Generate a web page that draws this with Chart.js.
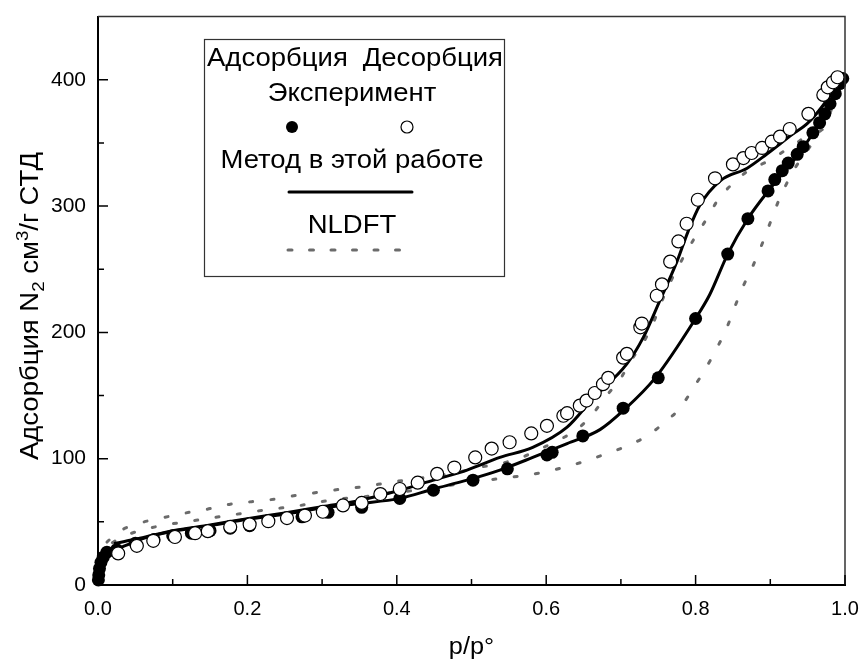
<!DOCTYPE html>
<html>
<head>
<meta charset="utf-8">
<script src="https://cdn.jsdelivr.net/npm/chart.js@4.4.1/dist/chart.umd.min.js"></script>
<style>
  html, body { margin: 0; padding: 0; background: #fff; }
  #wrap { width: 863px; height: 661px; }
</style>
</head>
<body>
<div id="wrap"><canvas id="c" width="863" height="661"></canvas></div>
<script>
// N2 isotherm: experiment, model of this work, NLDFT (p/p°, cm3/g STP)
const ADS_EXP_X = [0.0005, 0.001, 0.002, 0.004, 0.007, 0.012, 0.025, 0.05, 0.075, 0.1, 0.125, 0.15, 0.177, 0.203, 0.273, 0.308, 0.353, 0.404, 0.449, 0.502, 0.548, 0.601, 0.608, 0.649, 0.703, 0.75, 0.8, 0.843, 0.87, 0.897, 0.906, 0.916, 0.924, 0.936, 0.944, 0.957, 0.966, 0.973, 0.98, 0.987, 0.993, 0.997];
const ADS_EXP_Y = [4, 8, 13, 18, 22, 26, 28, 33, 36, 39, 41, 43, 45, 47, 54, 57.5, 61.5, 68.5, 75, 83, 92, 103, 105, 118, 140, 164, 211, 262, 290, 312, 321, 328, 334, 341, 347, 358, 366, 373, 381, 389, 397, 401];

const DES_EXP_X = [0.027, 0.052, 0.074, 0.103, 0.13, 0.147, 0.177, 0.203, 0.228, 0.253, 0.277, 0.301, 0.328, 0.353, 0.378, 0.404, 0.428, 0.454, 0.477, 0.505, 0.527, 0.551, 0.58, 0.601, 0.623, 0.628, 0.645, 0.654, 0.665, 0.676, 0.683, 0.703, 0.708, 0.726, 0.728, 0.748, 0.755, 0.766, 0.777, 0.788, 0.803, 0.826, 0.85, 0.864, 0.875, 0.889, 0.902, 0.913, 0.926, 0.951, 0.971, 0.977, 0.984, 0.99];
const DES_EXP_Y = [25, 31, 35, 38, 41, 42.6, 46, 48, 50.5, 53, 55, 58, 63, 65, 72, 76, 81, 88, 93, 101, 108, 113, 120, 126, 134, 136, 142, 146, 152, 159, 164, 180, 183, 204, 207, 229, 238, 256, 272, 286, 305, 322, 333, 338, 342, 346, 351, 355, 361, 373, 388, 394, 398, 402];

const ADS_MODEL_X = [0, 0.003, 0.006, 0.01, 0.016, 0.025, 0.04, 0.056, 0.1, 0.15, 0.2, 0.25, 0.3, 0.35, 0.404, 0.449, 0.494, 0.538, 0.582, 0.628, 0.672, 0.703, 0.746, 0.8, 0.819, 0.843, 0.87, 0.9, 0.94, 0.97, 0.99, 0.997];
const ADS_MODEL_Y = [3, 10, 15, 19, 24, 28, 32, 36, 42.5, 47, 52, 56, 61, 64.5, 68.6, 76, 83, 91, 101, 112, 123, 138, 164, 211, 230, 262, 290, 314, 343, 370, 393, 401];

const DES_MODEL_X = [0.023, 0.056, 0.1, 0.15, 0.2, 0.25, 0.3, 0.35, 0.404, 0.449, 0.494, 0.538, 0.582, 0.628, 0.663, 0.708, 0.73, 0.752, 0.775, 0.79, 0.806, 0.833, 0.869, 0.895, 0.93, 0.949, 0.971, 0.989, 0.997];
const DES_MODEL_Y = [33, 37, 43, 47.5, 52.5, 57, 62, 67, 75, 83, 91, 101, 109, 125, 148, 175, 196, 225, 256, 280, 301, 320, 330, 341, 357, 365, 380, 396, 404];

const NLDFT_ADS_X = [0.002, 0.013, 0.029, 0.056, 0.085, 0.117, 0.146, 0.166, 0.197, 0.23, 0.261, 0.29, 0.321, 0.353, 0.382, 0.411, 0.471, 0.534, 0.562, 0.594, 0.623, 0.652, 0.681, 0.708, 0.735, 0.759, 0.779, 0.797, 0.813, 0.828, 0.842, 0.853, 0.864, 0.877, 0.889, 0.9, 0.911, 0.922, 0.933, 0.942, 0.953, 0.962, 0.973, 0.984, 0.993];
const NLDFT_ADS_Y = [20, 30, 37, 43, 47, 50, 52.5, 54.4, 57, 60, 62, 65, 68, 69.5, 72.6, 74, 79, 84, 86, 89, 93, 98, 104, 110, 118, 129, 140, 156, 171, 187, 204, 221, 237, 253, 270, 287, 304, 318, 330, 338, 347, 357, 363, 380, 393];

const NLDFT_DES_X = [0.012, 0.027, 0.056, 0.085, 0.117, 0.146, 0.177, 0.206, 0.237, 0.266, 0.296, 0.327, 0.357, 0.388, 0.419, 0.449, 0.48, 0.509, 0.538, 0.567, 0.593, 0.621, 0.643, 0.663, 0.681, 0.699, 0.715, 0.73, 0.743, 0.755, 0.768, 0.787, 0.802, 0.815, 0.83, 0.85, 0.873, 0.895, 0.917, 0.94, 0.957, 0.97, 0.984, 0.995];
const NLDFT_DES_Y = [34, 42, 49, 53, 57, 60, 64, 66, 68, 71, 73.5, 76, 78, 81, 83.6, 86, 89, 93, 96, 101, 108, 116, 124, 136, 150, 163, 179, 192, 207, 225, 242, 263, 278, 290, 305, 318, 329, 335, 343, 352, 361, 369, 388, 398];

const X_MAJOR = [0, 0.2, 0.4, 0.6, 0.8, 1.0];
const X_MINOR = [0.1, 0.3, 0.5, 0.7, 0.9];
const Y_MAJOR = [0, 100, 200, 300, 400];
const Y_MINOR = [50, 150, 250, 350];

const FONT = "'Liberation Sans', Arial, sans-serif";
const NLDFT_GREY = '#6b6b6b';
const STRETCH = 1.1; // reference text runs a bit wider than Liberation Sans

const pts = (xs, ys) => xs.map((x, i) => ({ x, y: ys[i] }));

// text stretched along its own direction; align: 'left' | 'center' | 'right'
function wideText(ctx, t, x, y, align) {
  const w = ctx.measureText(t).width * STRETCH;
  const x0 = align === 'center' ? x - w / 2 : align === 'right' ? x - w : x;
  ctx.save();
  ctx.translate(x0, y);
  ctx.scale(STRETCH, 1);
  ctx.textAlign = 'left';
  ctx.fillText(t, 0, 0);
  ctx.restore();
}

const framePlugin = {
  id: 'frame',
  afterDraw(chart) {
    const { ctx, chartArea: a, scales: { x, y } } = chart;
    ctx.save();
    // top / right frame
    ctx.strokeStyle = '#333';
    ctx.lineWidth = 1.5;
    ctx.beginPath();
    ctx.moveTo(a.left, a.top); ctx.lineTo(a.right, a.top); ctx.lineTo(a.right, a.bottom);
    ctx.stroke();

    // inward ticks
    ctx.strokeStyle = '#000';
    ctx.lineWidth = 1.5;
    ctx.beginPath();
    X_MAJOR.forEach(v => { const px = x.getPixelForValue(v); ctx.moveTo(px, a.bottom); ctx.lineTo(px, a.bottom - 10); });
    X_MINOR.forEach(v => { const px = x.getPixelForValue(v); ctx.moveTo(px, a.bottom); ctx.lineTo(px, a.bottom - 6); });
    Y_MAJOR.forEach(v => { const py = y.getPixelForValue(v); ctx.moveTo(a.left, py); ctx.lineTo(a.left + 10, py); });
    Y_MINOR.forEach(v => { const py = y.getPixelForValue(v); ctx.moveTo(a.left, py); ctx.lineTo(a.left + 6, py); });
    ctx.stroke();

    // axis titles
    ctx.fillStyle = '#000';
    ctx.textBaseline = 'alphabetic';
    ctx.font = `23px ${FONT}`;
    wideText(ctx, 'p/p°', (a.left + a.right) / 2, 654, 'center');

    // y title with sub/superscript
    const parts = [
      { t: 'Адсорбция N', s: 25, dy: 0 },
      { t: '2', s: 17, dy: 6 },
      { t: ' см', s: 25, dy: 0 },
      { t: '3', s: 17, dy: -10 },
      { t: '/г СТД', s: 25, dy: 0 }
    ];
    let total = 0;
    parts.forEach(p => { ctx.font = `${p.s}px ${FONT}`; p.w = ctx.measureText(p.t).width * STRETCH; total += p.w; });
    ctx.save();
    ctx.translate(38, 306);
    ctx.rotate(-Math.PI / 2);
    let cx = -total / 2;
    parts.forEach(p => { ctx.font = `${p.s}px ${FONT}`; wideText(ctx, p.t, cx, p.dy, 'left'); cx += p.w; });
    ctx.restore();
    ctx.restore();

    // legend box
    ctx.save();
    ctx.fillStyle = '#fff';
    ctx.fillRect(204, 39, 301, 238);
    ctx.strokeStyle = '#333';
    ctx.lineWidth = 1.2;
    ctx.strokeRect(204.5, 39.5, 300, 237);
    ctx.fillStyle = '#000';
    ctx.font = `25px ${FONT}`;
    wideText(ctx, 'Адсорбция', 207, 66, 'left');
    wideText(ctx, 'Десорбция', 503, 66, 'right');
    wideText(ctx, 'Эксперимент', 352, 101, 'center');
    wideText(ctx, 'Метод в этой работе', 352, 168, 'center');
    wideText(ctx, 'NLDFT', 352, 233, 'center');
    ctx.beginPath(); ctx.arc(292, 127, 6, 0, Math.PI * 2); ctx.fill();
    ctx.beginPath(); ctx.arc(407, 127, 6, 0, Math.PI * 2);
    ctx.lineWidth = 1.2; ctx.strokeStyle = '#000'; ctx.stroke();
    ctx.lineWidth = 3; ctx.lineCap = 'round';
    ctx.beginPath(); ctx.moveTo(289, 192); ctx.lineTo(412, 192); ctx.stroke();
    ctx.strokeStyle = NLDFT_GREY;
    ctx.setLineDash([4, 17.5]);
    ctx.beginPath(); ctx.moveTo(288, 250); ctx.lineTo(402, 250); ctx.stroke();
    ctx.restore();
  }
};

const lineSet = (data, color, dash) => ({
  data, showLine: true, pointRadius: 0, borderColor: color, borderWidth: 3,
  borderDash: dash, borderCapStyle: 'round', cubicInterpolationMode: 'monotone', fill: false
});

new Chart(document.getElementById('c'), {
  type: 'scatter',
  data: {
    datasets: [
      { data: pts(DES_EXP_X, DES_EXP_Y), pointRadius: 6.5, pointBackgroundColor: '#fff', pointBorderColor: '#000', pointBorderWidth: 1.2, clip: false },
      { data: pts(ADS_EXP_X, ADS_EXP_Y), pointRadius: 6.5, pointBackgroundColor: '#000', pointBorderColor: '#000', pointBorderWidth: 0, clip: false },
      lineSet(pts(DES_MODEL_X, DES_MODEL_Y), '#000', []),
      lineSet(pts(ADS_MODEL_X, ADS_MODEL_Y), '#000', []),
      lineSet(pts(NLDFT_DES_X, NLDFT_DES_Y), NLDFT_GREY, [3, 18.5]),
      lineSet(pts(NLDFT_ADS_X, NLDFT_ADS_Y), NLDFT_GREY, [3, 18.5])
    ]
  },
  options: {
    responsive: false,
    animation: false,
    layout: { padding: { top: 0, right: 18, left: 0, bottom: 0 } },
    plugins: { legend: { display: false }, tooltip: { enabled: false } },
    scales: {
      x: {
        type: 'linear', min: 0, max: 1,
        afterFit: s => { s.height = 76; },
        afterBuildTicks: s => { s.ticks = X_MAJOR.map(v => ({ value: v })); },
        grid: { display: false },
        border: { display: true, color: '#000', width: 2 },
        ticks: { color: '#000', font: { family: FONT, size: 20 }, padding: 4, callback: v => v.toFixed(1), maxRotation: 0 }
      },
      y: {
        type: 'linear', min: 0, max: 450,
        afterFit: s => { s.width = 98; },
        afterBuildTicks: s => { s.ticks = Y_MAJOR.map(v => ({ value: v })); },
        grid: { display: false },
        border: { display: true, color: '#000', width: 2 },
        ticks: { color: '#000', font: { family: FONT, size: 21 }, padding: 4 }
      }
    }
  },
  plugins: [framePlugin]
});
</script>
</body>
</html>
